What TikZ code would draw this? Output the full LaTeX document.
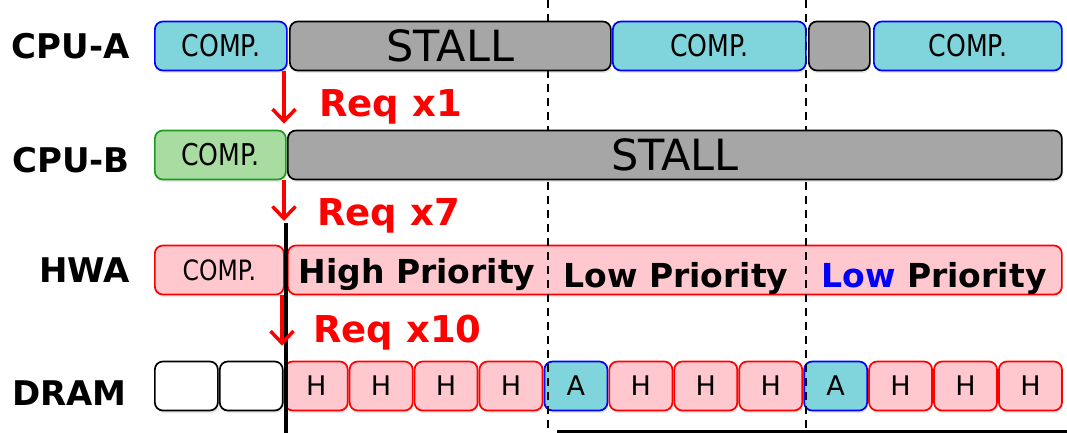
\documentclass[tikz,border=0pt]{standalone}
\usepackage{fontspec}
\setmainfont{DejaVu Sans}
\newfontfamily\narrowfont[FakeStretch=0.84]{DejaVu Sans}
\usetikzlibrary{arrows.meta,shadows}
\definecolor{CompCyan}{HTML}{7FD5DB}
\definecolor{CompBlue}{HTML}{0000FF}
\definecolor{StallGray}{HTML}{A6A6A6}
\definecolor{CompGreen}{HTML}{A9DCA0}
\definecolor{GreenEdge}{HTML}{1E9A1E}
\definecolor{HwaPink}{HTML}{FFC7CE}
\definecolor{ReqRed}{HTML}{FF0000}
\tikzset{
  slot/.style={draw, rounded corners=8pt, line width=1.7pt, minimum height=49pt, inner sep=0pt, anchor=west,
    drop shadow={opacity=0.18, shadow xshift=1pt, shadow yshift=-2.5pt}},
  cpucomp/.style={slot, fill=CompCyan, draw=CompBlue, font=\narrowfont\fontsize{30}{30}\selectfont},
  greencomp/.style={slot, fill=CompGreen, draw=GreenEdge, font=\narrowfont\fontsize{30}{30}\selectfont},
  hwacomp/.style={slot, fill=HwaPink, draw=ReqRed, font=\narrowfont\fontsize{28}{28}\selectfont},
  stall/.style={slot, fill=StallGray, draw=black, font=\fontsize{43}{43}\selectfont},
  hwabar/.style={slot, fill=HwaPink, draw=ReqRed},
  idlebox/.style={slot, fill=white, draw=black},
  hbox/.style={slot, fill=HwaPink, draw=ReqRed, font=\fontsize{27}{27}\selectfont},
  abox/.style={slot, fill=CompCyan, draw=CompBlue, font=\fontsize{27}{27}\selectfont},
  prio/.style={anchor=base, inner sep=0pt, font=\bfseries\fontsize{33}{33}\selectfont},
  rowlbl/.style={anchor=east, inner sep=0pt, font=\bfseries\fontsize{34}{34}\selectfont},
  reqlbl/.style={anchor=base west, inner sep=0pt, text=ReqRed, font=\bfseries\fontsize{37}{37}\selectfont},
  req/.style={ReqRed, line width=3.5pt, -{Straight Barb[length=12pt,width=23pt]}},
  epoch/.style={line width=2pt, dash pattern=on 8pt off 6pt}
}
\begin{document}
\begin{tikzpicture}[x=1pt,y=-1pt]
\useasboundingbox[fill=white] (0,0) rectangle (1067,433);
\node[hwacomp, minimum width=129pt] (hwa1) at (154,270){COMP.};
\node[hwabar, minimum width=774pt] (hwa2) at (287,270){};
\node[prio] (hwaHi) at (417,283){High Priority};
\node[prio] (hwaLo1) at (676,287){Low Priority};
\node[prio] (hwaLo2) at (934,287){\textcolor{CompBlue}{Low} Priority};
\foreach \i/\k/\t in {0/idlebox/{},1/idlebox/{},2/hbox/H,3/hbox/H,4/hbox/H,5/hbox/H,6/abox/A,7/hbox/H,8/hbox/H,9/hbox/H,10/abox/A,11/hbox/H,12/hbox/H,13/hbox/H}
  \node[\k, minimum width=63pt] (dram\i) at ({154+64.93*\i},386){\t};
\draw[epoch] (548,0) -- (548,433);
\draw[epoch] (806,0) -- (806,433);
\node[cpucomp, minimum width=132pt] (cpuA1) at (154,46){COMP.};
\node[stall, minimum width=321pt] (cpuA2) at (289,46){STALL};
\node[cpucomp, minimum width=193pt] (cpuA3) at (612,46){COMP.};
\node[stall, minimum width=61pt] (cpuA4) at (808,46){};
\node[cpucomp, minimum width=188pt] (cpuA5) at (873,46){COMP.};
\node[greencomp, minimum width=131pt] (cpuB1) at (154,155){COMP.};
\node[stall, minimum width=774pt] (cpuB2) at (287,155){STALL};
\node[rowlbl] (lblA) at (130,46){CPU-A};
\node[rowlbl] (lblB) at (130,160){CPU-B};
\node[rowlbl] (lblH) at (130,270){HWA};
\node[rowlbl] (lblD) at (127,393){DRAM};
\coordinate (sync) at (286,223);
\draw[line width=4pt] (sync) -- (286,433);
\draw[line width=3pt] (557,431.5) -- (1067,431.5);
\draw[req] ([xshift=-2pt]sync |- cpuA1.south) -- ([xshift=-2pt,yshift=6pt]sync |- cpuB1.north);
\draw[req] ([xshift=-2pt]sync |- cpuB1.south) -- ([xshift=-2pt,yshift=2pt]sync);
\draw[req] ([xshift=-4pt]sync |- hwa1.south) -- ([xshift=-4pt,yshift=15pt]sync |- dram1.north);
\node[reqlbl] (req1) at (319,117){Req x1};
\node[reqlbl] (req7) at (317,225){Req x7};
\node[reqlbl] (req10) at (313,342){Req x10};
\end{tikzpicture}
\end{document}
